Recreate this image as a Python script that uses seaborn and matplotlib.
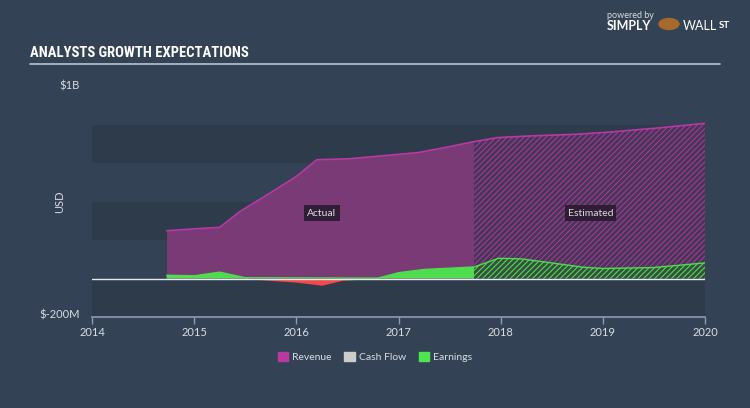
import numpy as np
import pandas as pd
import matplotlib
matplotlib.use("Agg")
import matplotlib.pyplot as plt
import seaborn as sns
from matplotlib import font_manager
from matplotlib.patches import Patch, Circle

# values in millions of USD, dates as decimal years
revenue_dates = [2014.73, 2015.0, 2015.25, 2015.45, 2015.7, 2016.0, 2016.2, 2016.52,
                 2016.77, 2017.19, 2017.45, 2017.74, 2017.97, 2018.3, 2018.73, 2019.05,
                 2019.5, 2020.0]
revenue_values = [248, 258, 266, 349, 430, 530, 617, 622,
                  634, 654, 680, 711, 732, 741, 749, 760,
                  780, 806]

earnings_dates = [2014.73, 2015.0, 2015.25, 2015.5, 2015.65, 2016.0, 2016.25, 2016.45,
                  2016.7, 2016.8, 2017.0, 2017.25, 2017.74, 2017.98, 2018.2, 2018.5,
                  2018.8, 2019.0, 2019.5, 2020.0]
earnings_values = [17, 14, 33, 4, -6, -19, -35, -9,
                   -2, 2, 30, 47, 60, 105, 102, 81,
                   59, 52, 57, 81]

split_year = 2017.74
x_ticks = [2014, 2015, 2016, 2017, 2018, 2019, 2020]
y_limits = (-200, 1000)
legend_labels = ["Revenue", "Cash Flow", "Earnings"]

bg = "#334254"
band = "#2e3b4a"
rev_line = "#b63aa3"
rev_fill = "#7a3a76"
earn_col = "#4fdc4f"
neg_col = "#f04a4a"
text_col = "#d8dde3"
axis_col = "#8b9bb0"

sns.set_theme(style="dark")
plt.rcParams["font.family"] = ["Lato", "DejaVu Sans"]
plt.rcParams["hatch.linewidth"] = 0.8

# pick a narrow font for the title if one is installed
installed = {f.name for f in font_manager.fontManager.ttflist}
narrow = [f for f in ["Liberation Sans Narrow", "DejaVu Sans Condensed",
                      "Roboto Condensed", "Open Sans Condensed"] if f in installed]
title_font = narrow[0] if narrow else "DejaVu Sans"
title_size = 10.5 if narrow else 8.2

rev = pd.DataFrame({"date": revenue_dates, "value": revenue_values})
earn = pd.DataFrame({"date": earnings_dates, "value": earnings_values})

fig = plt.figure(figsize=(7.5, 4.08), dpi=100, facecolor=bg)
ax = fig.add_axes([92 / 750, 1 - 317 / 408, 613 / 750, 231 / 408])
ax.set_facecolor(bg)

# horizontal bands
for lo in (600, 200, -200):
    ax.axhspan(lo, lo + 200, color=band, lw=0, zorder=0)

# revenue areas
ra = rev[rev.date <= split_year]
re_ = rev[rev.date >= split_year]
ax.fill_between(ra.date, 0, ra.value, color=rev_fill, lw=0, zorder=1)
ax.fill_between(re_.date, 0, re_.value, facecolor="#4a3458", edgecolor="#9a3d96",
                hatch="//////", lw=0, zorder=1)

# earnings areas
ea = earn[earn.date <= split_year]
ee = earn[earn.date >= split_year]
ax.fill_between(ea.date, 0, ea.value, where=ea.value >= 0, interpolate=True,
                color=earn_col, lw=0, zorder=2)
ax.fill_between(ea.date, 0, ea.value, where=ea.value <= 0, interpolate=True,
                color=neg_col, lw=0, zorder=2)
ax.fill_between(ee.date, 0, ee.value, facecolor="#35503f", edgecolor=earn_col,
                hatch="//////", lw=0, zorder=2)

sns.lineplot(data=rev, x="date", y="value", color=rev_line, lw=1.2, ax=ax, zorder=3)
sns.lineplot(data=earn[earn.value >= 0], x="date", y="value", color=earn_col,
             lw=1.0, ax=ax, zorder=3, estimator=None)
ax.axhline(0, color="#e6e9ee", lw=1.0, zorder=4)

ax.set_xlim(2014, 2020)
ax.set_ylim(*y_limits)
ax.set_xticks(x_ticks)
ax.set_xticklabels([str(t) for t in x_ticks], color=text_col, fontsize=8)
ax.set_yticks([])
ax.set_xlabel("")
ax.set_ylabel("")
for s in ("top", "right", "left"):
    ax.spines[s].set_visible(False)
ax.spines["bottom"].set_color(axis_col)
ax.spines["bottom"].set_linewidth(1.2)
ax.tick_params(axis="x", colors=axis_col, length=5, width=1, direction="out",
               pad=2, labelcolor=text_col, bottom=True)

# actual / estimated labels
box = dict(boxstyle="square,pad=0.3", fc="#2b1a2f", ec="none", alpha=0.9)
ax.text(2016.25, 340, "Actual", color=text_col, fontsize=7.5, ha="center",
        va="center", bbox=box, zorder=5)
ax.text(2018.88, 340, "Estimated", color=text_col, fontsize=7.5, ha="center",
        va="center", bbox=box, zorder=5)

# y labels
fig.text(80 / 750, 1 - 86 / 408, "$1B", color=text_col, fontsize=8, ha="right", va="center")
fig.text(80 / 750, 1 - 315 / 408, "$-200M", color=text_col, fontsize=8, ha="right", va="center")
fig.text(60 / 750, 1 - 202 / 408, "USD", color=text_col, fontsize=8, ha="center",
         va="center", rotation=90)

# title and rule
fig.text(30 / 750, 1 - 53 / 408, "ANALYSTS GROWTH EXPECTATIONS", color="white",
         fontsize=title_size, fontweight="bold", fontstretch="condensed",
         family=[title_font, "DejaVu Sans"], ha="left", va="center")
fig.add_artist(plt.Line2D([30 / 750, 720 / 750], [1 - 64 / 408] * 2,
                          color="#b9c3cf", lw=1.2))

# logo
fig.text(607 / 750, 1 - 15 / 408, "powered by", color=text_col, fontsize=6.5,
         ha="left", va="center")
fig.text(607 / 750, 1 - 26 / 408, "SIMPLY", color="white", fontsize=9,
         fontweight="bold", ha="left", va="center")
fig.add_artist(Circle((669 / 750, 1 - 24 / 408), 10 / 750, transform=fig.transFigure,
                      color="#a8692c"))
fig.text(683 / 750, 1 - 26 / 408, "WALL", color="white", fontsize=9,
         ha="left", va="center")
fig.text(719 / 750, 1 - 25 / 408, "ST", color="white", fontsize=7,
         fontweight="bold", ha="left", va="center")

# legend
handles = [Patch(color="#b8399f"), Patch(color="#cccccc"), Patch(color="#4de64d")]
fig.legend(handles, legend_labels, loc="center", bbox_to_anchor=(0.5, 1 - 357 / 408),
           ncol=3, frameon=False, fontsize=7.5, labelcolor=text_col,
           handlelength=1.0, handleheight=1.0, handletextpad=0.4, columnspacing=1.2)

fig.savefig("out.png", dpi=100, facecolor=bg)
